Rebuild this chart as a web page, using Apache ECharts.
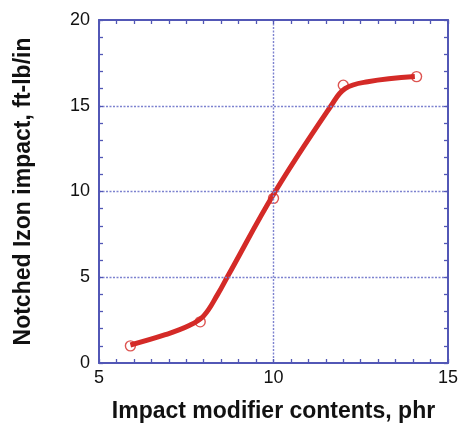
<!DOCTYPE html>
<html>
<head>
<meta charset="utf-8">
<script src="https://cdn.jsdelivr.net/npm/echarts@6/dist/echarts.min.js"></script>
<style>
  html, body { margin: 0; padding: 0; background: #fff; }
  #chart { width: 461px; height: 428px; }
</style>
</head>
<body>
<div id="chart"></div>
<script>
// Measured samples: impact modifier content (phr) vs notched Izod impact (ft-lb/in)
const modifierPhr = [5.9, 7.9, 10.0, 12.0, 14.1];
const impactValues = [1.0, 2.4, 9.6, 16.2, 16.7];

// Fitted trend curve drawn through the samples
const fitPhr = [5.9, 6.9, 7.6, 8.0, 8.4, 8.7, 10.05, 11.65, 12.05, 12.7, 14.05];
const fitImpact = [1.05, 1.65, 2.2, 2.75, 4.0, 5.1, 10.0, 15.0, 16.0, 16.4, 16.7];

const xTitle = 'Impact modifier contents, phr';
const yTitle = 'Notched Izon impact, ft-lb/in';

const axisBlue = '#5257b6';
const gridBlue = '#7d82cf';
const red = '#d42a27';
const font = 'Liberation Sans, Arial, sans-serif';

const chart = echarts.init(document.getElementById('chart'), null, { renderer: 'canvas' });

const baseAxis = {
  type: 'value',
  interval: 5,
  axisLine: { show: true, onZero: false, lineStyle: { color: axisBlue, width: 2 } },
  axisTick: { show: true, inside: true, length: 4, lineStyle: { color: axisBlue, width: 1.3 } },
  minorTick: { show: true, length: 4, lineStyle: { color: axisBlue, width: 1.3 } },
  splitLine: { show: false },
  axisLabel: { show: false },
  z: 5
};

const gridLine = {
  show: true,
  showMinLine: false,
  showMaxLine: false,
  lineStyle: { color: gridBlue, type: [2, 1.5], width: 1.4 }
};

chart.setOption({
  animation: false,
  grid: { left: 99, right: 11, top: 20, bottom: 65, containLabel: false },
  xAxis: [
    Object.assign({}, baseAxis, {
      position: 'bottom', min: 5, max: 15,
      minorTick: Object.assign({}, baseAxis.minorTick, { splitNumber: 10 }),
      splitLine: gridLine,
      axisLabel: { show: true, color: '#111', fontSize: 18, fontFamily: font, margin: 6 },
      name: xTitle, nameLocation: 'middle', nameGap: 37,
      nameTextStyle: { color: '#111', fontSize: 23, fontWeight: 'bold', fontFamily: font }
    }),
    Object.assign({}, baseAxis, {
      position: 'top', min: 5, max: 15,
      minorTick: Object.assign({}, baseAxis.minorTick, { splitNumber: 10 })
    })
  ],
  yAxis: [
    Object.assign({}, baseAxis, {
      position: 'left', min: 0, max: 20,
      minorTick: Object.assign({}, baseAxis.minorTick, { splitNumber: 5 }),
      splitLine: gridLine,
      axisLabel: { show: true, color: '#111', fontSize: 18, fontFamily: font, margin: 9 },
      name: yTitle, nameLocation: 'middle', nameGap: 64, nameRotate: 90,
      nameTextStyle: { color: '#111', fontSize: 23, fontWeight: 'bold', fontFamily: font }
    }),
    Object.assign({}, baseAxis, {
      position: 'right', min: 0, max: 20,
      minorTick: Object.assign({}, baseAxis.minorTick, { splitNumber: 5 })
    })
  ],
  series: [
    {
      type: 'line',
      data: fitPhr.map((x, i) => [x, fitImpact[i]]),
      smooth: 0.4,
      showSymbol: false,
      lineStyle: { color: red, width: 5 },
      z: 3
    },
    {
      type: 'scatter',
      data: modifierPhr.map((x, i) => [x, impactValues[i]]),
      symbol: 'circle',
      symbolSize: 10,
      itemStyle: { color: 'rgba(255,255,255,0)', borderColor: red, borderWidth: 1.4 },
      z: 4
    }
  ]
});
</script>
</body>
</html>
